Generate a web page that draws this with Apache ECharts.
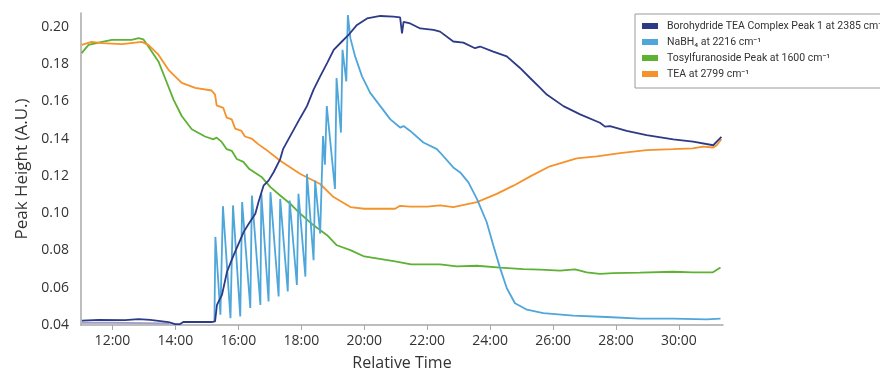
<!DOCTYPE html>
<html>
<head>
<meta charset="utf-8">
<script src="https://cdn.jsdelivr.net/npm/echarts@6/dist/echarts.min.js"></script>
<style>
html,body{margin:0;padding:0;background:#fff;}
#chart{width:880px;height:376px;}
</style>
</head>
<body>
<div id="chart"></div>
<script>
// Time in hours (relative), values in A.U.
const xTickValues = [12,14,16,18,20,22,24,26,28,30];
const yTickValues = [0.04,0.06,0.08,0.10,0.12,0.14,0.16,0.18,0.20];

const seriesNames = [
  'Borohydride TEA Complex Peak 1 at 2385 cm\u207B\u00B9',
  'NaBH\u2084 at 2216 cm\u207B\u00B9',
  'Tosylfuranoside Peak at 1600 cm\u207B\u00B9',
  'TEA at 2799 cm\u207B\u00B9'
];

const borohydride = [
  [11.03,0.0423],[11.56,0.0427],[12.4,0.0426],[12.83,0.0432],[13.2,0.0427],[13.78,0.0416],[13.99,0.0405],[14.15,0.0405],[14.25,0.0416],
  [15.15,0.0416],[15.26,0.042],[15.32,0.0508],[15.48,0.0562],[15.64,0.0686],[15.85,0.0775],[16.01,0.0837],
  [16.17,0.090],[16.33,0.0944],[16.54,0.0997],[16.64,0.106],[16.80,0.1148],[16.96,0.1175],[17.12,0.122],
  [17.33,0.1291],[17.42,0.1344],[17.97,0.1513],[18.18,0.1575],[18.39,0.1664],[18.60,0.1735],[18.82,0.1806],
  [19.03,0.1877],[19.29,0.1922],[19.50,0.1957],[19.77,0.2011],[20.09,0.2046],[20.51,0.2059],[20.93,0.2055],
  [21.14,0.2052],[21.20,0.1966],[21.25,0.2028],[21.46,0.2019],[21.78,0.1992],[22.20,0.1984],[22.41,0.1975],
  [22.83,0.1922],[23.15,0.1916],[23.52,0.1886],[23.68,0.1895],[24.10,0.1868],[24.53,0.1842],[24.95,0.178],
  [25.27,0.1726],[25.59,0.1673],[25.80,0.1637],[26.33,0.1575],[26.86,0.1531],[27.49,0.1486],[27.65,0.1465],
  [27.81,0.1468],[28.34,0.1442],[28.97,0.1419],[29.82,0.1397],[30.45,0.1385],[31.09,0.1365],[31.35,0.141]
];

const nabh4 = [
  [15.24,0.042],[15.27,0.0873],[15.43,0.0455],[15.51,0.1038],[15.75,0.0437],[15.83,0.1042],[16.06,0.0446],
  [16.12,0.106],[16.38,0.0491],[16.43,0.1095],[16.70,0.0508],[16.73,0.1104],[16.96,0.0526],[17.02,0.1113],
  [17.28,0.0553],[17.33,0.1077],[17.57,0.058],[17.63,0.1068],[17.86,0.0615],[17.91,0.1104],[18.13,0.066],
  [18.18,0.1211],[18.39,0.0748],[18.44,0.1175],[18.60,0.0891],[18.69,0.1415],[18.75,0.126],[18.81,0.1575],
  [19.07,0.113],[19.12,0.1726],[19.26,0.1433],[19.31,0.1877],[19.43,0.1708],[19.48,0.2064],[19.56,0.194],
  [19.71,0.1842],[19.93,0.1735],[20.19,0.1646],[20.51,0.1575],[20.83,0.1504],[21.14,0.146],[21.25,0.1468],
  [21.46,0.1442],[21.88,0.138],[22.31,0.1344],[22.41,0.1326],[22.83,0.1246],[23.05,0.1219],[23.31,0.1166],
  [23.58,0.1077],[23.89,0.0953],[24.10,0.0828],[24.32,0.0704],[24.53,0.0597],[24.79,0.0517],[25.17,0.0482],
  [25.69,0.0464],[26.64,0.045],[27.70,0.0443],[28.76,0.0434],[29.82,0.0434],[30.88,0.043],[31.32,0.0434]
];

const tosylfuranoside = [
  [11.02,0.186],[11.24,0.1904],[11.56,0.1916],[11.98,0.1931],[12.61,0.1931],[12.83,0.194],[12.98,0.1934],
  [13.14,0.1895],[13.46,0.1815],[13.67,0.1726],[13.94,0.161],[14.20,0.1522],[14.52,0.1451],[14.94,0.1412],
  [15.21,0.1397],[15.31,0.1406],[15.47,0.1383],[15.63,0.1344],[15.79,0.1335],[15.95,0.1291],[16.16,0.1276],
  [16.35,0.1237],[16.75,0.1193],[17.02,0.114],[17.33,0.1095],[17.65,0.1051],[17.97,0.0997],[18.39,0.0935],
  [18.82,0.0882],[19.13,0.0828],[19.56,0.0802],[20.0,0.0768],[20.98,0.0741],[21.49,0.0725],[22.0,0.0725],
  [22.41,0.0725],[22.94,0.0715],[23.58,0.0718],[24.32,0.0708],[25.06,0.070],[25.59,0.0697],[26.22,0.0692],
  [26.70,0.0699],[27.07,0.0683],[27.49,0.0674],[27.91,0.0679],[28.76,0.0681],[29.82,0.0686],[30.44,0.0683],
  [31.08,0.0683],[31.32,0.0709]
];

const tea = [
  [11.02,0.1904],[11.34,0.192],[11.66,0.1913],[12.30,0.1908],[12.93,0.192],[13.14,0.1904],[13.46,0.1851],
  [13.78,0.177],[14.20,0.170],[14.63,0.1673],[15.15,0.1659],[15.26,0.1637],[15.31,0.1579],[15.52,0.1566],
  [15.63,0.1513],[15.79,0.1504],[15.90,0.1454],[16.10,0.1442],[16.21,0.1412],[16.42,0.1401],[16.63,0.1371],
  [16.86,0.1344],[17.33,0.1282],[17.97,0.1211],[18.60,0.1157],[19.0,0.109],[19.56,0.1033],[20.0,0.1024],
  [20.98,0.1024],[21.14,0.104],[21.46,0.1035],[22.0,0.1035],[22.41,0.1042],[22.83,0.1033],[23.58,0.106],
  [24.21,0.1104],[24.74,0.1148],[25.32,0.1202],[25.90,0.1252],[26.75,0.1294],[27.39,0.1305],[28.13,0.1323],
  [28.97,0.1339],[29.81,0.1344],[30.44,0.1348],[30.76,0.1358],[31.09,0.1353],[31.20,0.1365],[31.35,0.1397]
];

const baselineTrace = [
  [11.02,0.0412],[12.0,0.0412],[13.0,0.0410],[13.8,0.0408]
];

const colors = ['#2d3a86','#4ea6da','#5db133','#f5922a','#a09cc8'];

const chart = echarts.init(document.getElementById('chart'), null, {renderer:'canvas'});
const fontFam = 'Open Sans, Lato, sans-serif';

function lineSeries(name, data, color, z){
  return {
    name: name, type: 'line', data: data, symbol: 'none', smooth: false,
    lineStyle: {color: color, width: 1.8}, itemStyle: {color: color}, z: z
  };
}

chart.setOption({
  animation: false,
  backgroundColor: '#ffffff',
  grid: {left: 81, right: 157, top: 13, bottom: 49, containLabel: false},
  legend: {
    orient: 'vertical', left: 635, top: 14,
    data: seriesNames,
    icon: 'rect', itemWidth: 16, itemHeight: 6, itemGap: 2,
    padding: [5, 12, 7, 7],
    backgroundColor: '#ffffff', borderColor: '#9a9a9a', borderWidth: 1,
    textStyle: {fontSize: 10.5, lineHeight: 14, color: '#333', fontFamily: 'Roboto, sans-serif', padding: [0,0,0,4]},
    selectedMode: false
  },
  xAxis: {
    type: 'value', min: 11.0, max: 31.4,
    name: 'Relative Time', nameLocation: 'middle', nameGap: 30,
    nameTextStyle: {fontSize: 16, color: '#333', fontFamily: fontFam},
    axisLine: {show: true, lineStyle: {color: '#a8a8a8', width: 1.5}},
    axisTick: {show: true, length: 5, lineStyle: {color: '#a8a8a8'}, customValues: xTickValues},
    axisLabel: {customValues: xTickValues, fontSize: 14, color: '#333', fontFamily: fontFam, margin: 9,
      formatter: v => Math.round(v) + ':00'},
    splitLine: {show: false}
  },
  yAxis: {
    type: 'value', min: 0.04, max: 0.2075,
    name: 'Peak Height (A.U.)', nameLocation: 'middle', nameGap: 50,
    nameTextStyle: {fontSize: 17, color: '#333', fontFamily: fontFam},
    axisLine: {show: true, lineStyle: {color: '#a8a8a8', width: 1.5}},
    axisTick: {show: false},
    axisLabel: {customValues: yTickValues, fontSize: 14, color: '#333', fontFamily: fontFam, margin: 12,
      formatter: v => v.toFixed(2)},
    splitLine: {show: false}
  },
  series: [
    lineSeries('baseline', baselineTrace, colors[4], 1),
    lineSeries(seriesNames[2], tosylfuranoside, colors[2], 2),
    lineSeries(seriesNames[3], tea, colors[3], 2),
    lineSeries(seriesNames[1], nabh4, colors[1], 3),
    lineSeries(seriesNames[0], borohydride, colors[0], 4)
  ]
});
</script>
</body>
</html>
